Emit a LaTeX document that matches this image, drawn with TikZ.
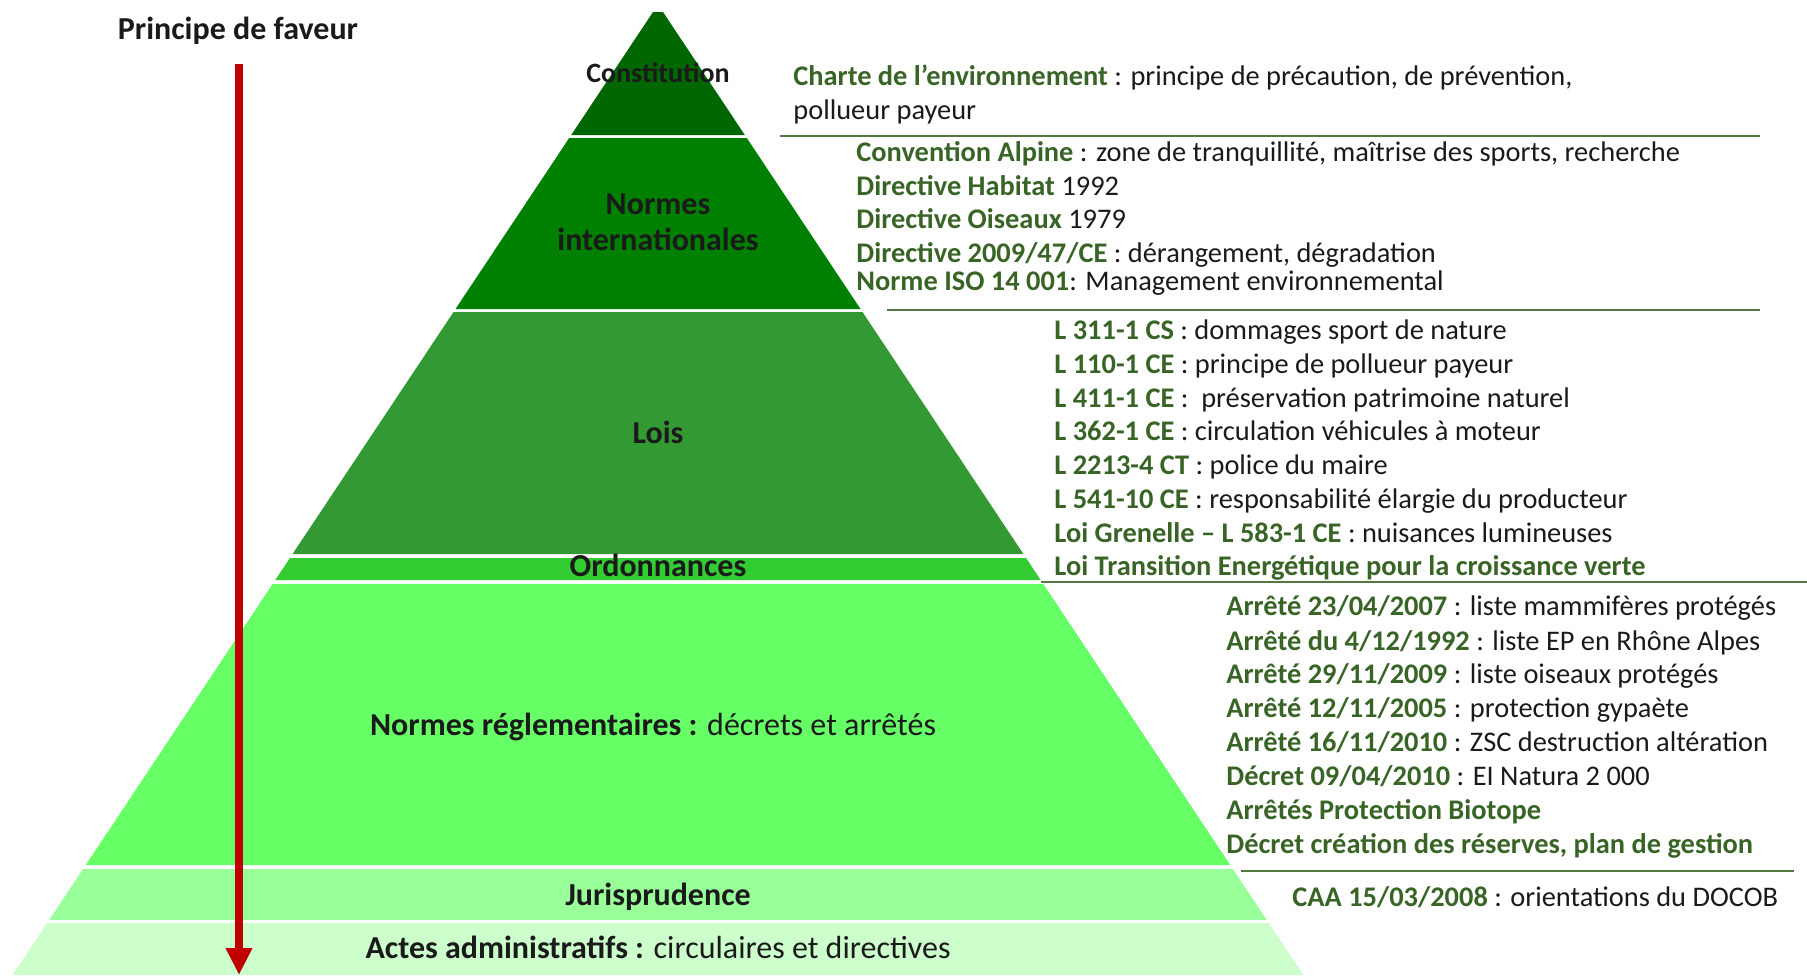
\documentclass[tikz,border=0pt]{standalone}
\usepackage{fontspec}
\setmainfont{Carlito}
\usepackage{xcolor}
\usetikzlibrary{arrows.meta}
\tikzset{>=latex}

\definecolor{lvlconst}{HTML}{006600}
\definecolor{lvlinter}{HTML}{008000}
\definecolor{lvllois}{HTML}{339933}
\definecolor{lvlordo}{HTML}{33CC33}
\definecolor{lvlregl}{HTML}{66FF66}
\definecolor{lvljuri}{HTML}{99FF99}
\definecolor{lvlactes}{HTML}{CCFFCC}
\definecolor{txtgreen}{RGB}{56,100,38}
\definecolor{txtblack}{HTML}{1A1A1A}
\definecolor{sepgreen}{RGB}{84,120,64}
\definecolor{arrowred}{HTML}{C00000}

% one slice of the pyramid, from y=#1 to y=#2 (pixels, downwards)
\newcommand{\pyrlayer}[3]{%
  \fill[#3] ({658-(5+0.665*(#1-12))},#1) -- ({658+(5+0.665*(#1-12))},#1)
    -- ({658+(5+0.665*(#2-12))},#2) -- ({658-(5+0.665*(#2-12))},#2) -- cycle;}
\newcommand{\grn}[1]{{\bfseries\color{txtgreen}#1}}

\begin{document}
\begin{tikzpicture}[x=0.5pt,y=-0.5pt,
    lvl/.style={font=\bfseries\fontsize{16}{19}\selectfont, anchor=base, inner sep=0pt, text=txtblack},
    ref/.style={font=\fontsize{14.2}{17}\selectfont, anchor=base west, inner sep=0pt, text=txtblack},
    sep/.style={draw=sepgreen, line width=1.25pt}]
  \useasboundingbox (0,0) rectangle (1807,975);

  % pyramid
  \pyrlayer{12}{135}{lvlconst}
  \pyrlayer{138}{309}{lvlinter}
  \pyrlayer{312}{554}{lvllois}
  \pyrlayer{558}{580}{lvlordo}
  \pyrlayer{584}{865}{lvlregl}
  \pyrlayer{869}{920}{lvljuri}
  \pyrlayer{923}{975}{lvlactes}

  \node[lvl, font=\bfseries\fontsize{14}{17}\selectfont] (const) at (658,82) {Constitution};
  \node[lvl, align=center] (inter) at (658,250) {Normes\\[-1pt]internationales};
  \node[lvl] (lois) at (658,443) {Lois};
  \node[lvl] (ordo) at (658,576) {Ordonnances};
  \node[lvl] (regl) at (653,735) {Normes réglementaires : \mdseries décrets et arrêtés};
  \node[lvl] (juri) at (658,905) {Jurisprudence};
  \node[lvl] (actes) at (658,958) {Actes administratifs : \mdseries circulaires et directives};

  % principe de faveur
  \node[lvl] (faveur) at (238,39) {Principe de faveur};
  \coordinate (faveur-top) at (239,64);
  \coordinate (faveur-end) at (239,975);
  \draw[arrowred, line width=4pt, -{Triangle[width=12.5pt,length=13.5pt]}] (faveur-top) -- (faveur-end);

  % separators
  \draw[sep] (780,136) -- (1760,136);
  \draw[sep] (887,310) -- (1760,310);
  \draw[sep] (1041,582) -- (1807,582);
  \draw[sep] (1241,871) -- (1794,871);

  % constitution
  \node[ref] (charte-1) at (793,85) {\grn{Charte de l’environnement} : principe de précaution, de prévention,};
  \node[ref] (charte-2) at (793,119) {pollueur payeur};

  % normes internationales
  \node[ref] (inter-1) at (856,161) {\grn{Convention Alpine} : zone de tranquillité, maîtrise des sports, recherche};
  \node[ref] (inter-2) at (856,195) {\grn{Directive Habitat} 1992};
  \node[ref] (inter-3) at (856,228) {\grn{Directive Oiseaux} 1979};
  \node[ref] (inter-4) at (856,262) {\grn{Directive 2009/47/CE} : dérangement, dégradation};
  \node[ref] (inter-5) at (856,290) {\grn{Norme ISO 14 001}: Management environnemental};

  % lois
  \node[ref] (lois-1) at (1054,339) {\grn{L 311-1 CS} : dommages sport de nature};
  \node[ref] (lois-2) at (1054,373) {\grn{L 110-1 CE} : principe de pollueur payeur};
  \node[ref] (lois-3) at (1054,407) {\grn{L 411-1 CE} :\ \ préservation patrimoine naturel};
  \node[ref] (lois-4) at (1054,440) {\grn{L 362-1 CE} : circulation véhicules à moteur};
  \node[ref] (lois-5) at (1054,474) {\grn{L 2213-4 CT} : police du maire};
  \node[ref] (lois-6) at (1054,508) {\grn{L 541-10 CE} : responsabilité élargie du producteur};
  \node[ref] (lois-7) at (1054,542) {\grn{Loi Grenelle – L 583-1 CE} : nuisances lumineuses};
  \node[ref] (lois-8) at (1054,575) {\grn{Loi Transition Energétique pour la croissance verte}};

  % normes reglementaires
  \node[ref] (regl-1) at (1226,615) {\grn{Arrêté 23/04/2007} : liste mammifères protégés};
  \node[ref] (regl-2) at (1226,650) {\grn{Arrêté du 4/12/1992} : liste EP en Rhône Alpes};
  \node[ref] (regl-3) at (1226,683) {\grn{Arrêté 29/11/2009} : liste oiseaux protégés};
  \node[ref] (regl-4) at (1226,717) {\grn{Arrêté 12/11/2005} : protection gypaète};
  \node[ref] (regl-5) at (1226,751) {\grn{Arrêté 16/11/2010} : ZSC destruction altération};
  \node[ref] (regl-6) at (1226,785) {\grn{Décret 09/04/2010} : EI Natura 2 000};
  \node[ref] (regl-7) at (1226,819) {\grn{Arrêtés Protection Biotope}};
  \node[ref] (regl-8) at (1226,853) {\grn{Décret création des réserves, plan de gestion}};

  % jurisprudence
  \node[ref] (juri-1) at (1292,906) {\grn{CAA 15/03/2008} : orientations du DOCOB};
\end{tikzpicture}
\end{document}
